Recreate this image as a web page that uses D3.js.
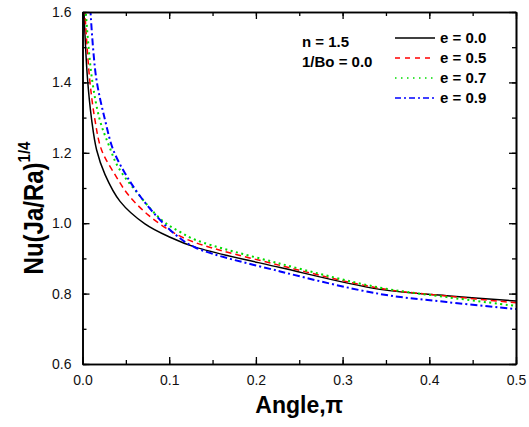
<!DOCTYPE html>
<html>
<head>
<meta charset="utf-8">
<script src="https://d3js.org/d3.v7.min.js"></script>
<style>
  body { margin: 0; background: #fff; }
  text { font-family: "Liberation Sans", Arial, Helvetica, sans-serif; }
</style>
</head>
<body>
<div id="my_dataviz"></div>
<script>

// values: [angle (units of pi), Nu(Ja/Ra)^1/4]
var e00 = [[0.0012,1.63],[0.0056,1.416],[0.0106,1.293],[0.0163,1.208],[0.026,1.138],[0.0433,1.062],
           [0.072,0.998],[0.101,0.960],[0.130,0.932],[0.228,0.874],[0.343,0.812],[0.42,0.794],[0.5,0.779]];
var e05 = [[0.0025,1.61],[0.008,1.416],[0.0144,1.293],[0.022,1.208],[0.0375,1.138],[0.053,1.080],
           [0.076,1.023],[0.103,0.976],[0.130,0.945],[0.228,0.880],[0.343,0.815],[0.42,0.793],[0.5,0.774]];
var e07 = [[0.0035,1.61],[0.0106,1.416],[0.020,1.293],[0.030,1.224],[0.041,1.160],[0.0606,1.094],
           [0.0913,1.009],[0.112,0.976],[0.130,0.953],[0.228,0.885],[0.343,0.817],[0.42,0.790],[0.5,0.765]];
var e09 = [[0.0090,1.61],[0.0156,1.416],[0.026,1.293],[0.0355,1.208],[0.049,1.142],[0.064,1.085],
           [0.0836,1.025],[0.107,0.968],[0.130,0.931],[0.228,0.863],[0.343,0.799],[0.42,0.776],[0.5,0.756]];

var seriesNames = ["e = 0.0", "e = 0.5", "e = 0.7", "e = 0.9"];
var seriesData = [e00, e05, e07, e09];
var xTicks = [0.0, 0.1, 0.2, 0.3, 0.4, 0.5];
var yTicks = [0.6, 0.8, 1.0, 1.2, 1.4, 1.6];
var notes = ["n = 1.5", "1/Bo = 0.0"];

var colors = ["#000000", "#ff0000", "#00dd00", "#0000ff"];
var dashes = ["none", "6,4", "2,3.5", "7,3,2,3"];
var widths = [1.5, 1.5, 2, 2];

var margin = {top: 12, right: 13, bottom: 63, left: 82.5},
    width = 529 - margin.left - margin.right,
    height = 427 - margin.top - margin.bottom;

var svg = d3.select("#my_dataviz")
  .append("svg")
    .attr("width", 529)
    .attr("height", 427)
  .append("g")
    .attr("transform", "translate(" + margin.left + "," + margin.top + ")");

var x = d3.scaleLinear().domain([0, 0.5]).range([0, width]);
var y = d3.scaleLinear().domain([0.6, 1.6]).range([height, 0]);

svg.append("clipPath").attr("id", "clip")
  .append("rect").attr("width", width).attr("height", height);

// curves
var line = d3.line()
  .x(function(d) { return x(d[0]); })
  .y(function(d) { return y(d[1]); })
  .curve(d3.curveCatmullRom.alpha(0.5));

svg.append("g").attr("clip-path", "url(#clip)")
  .selectAll("path")
  .data(seriesData)
  .enter()
  .append("path")
    .attr("d", function(d) { return line(d); })
    .attr("fill", "none")
    .attr("stroke", function(d, i) { return colors[i]; })
    .attr("stroke-width", function(d, i) { return widths[i]; })
    .attr("stroke-dasharray", function(d, i) { return dashes[i]; });

// axes, ticks pointing inward on all four sides
var minorX = d3.range(0, 0.501, 0.05);
var minorY = d3.range(0.6, 1.601, 0.1);

svg.append("g").attr("transform", "translate(0," + height + ")")
  .call(d3.axisBottom(x).tickValues(xTicks).tickFormat(d3.format(".1f")).tickSizeInner(-7).tickSizeOuter(0).tickPadding(11));
svg.append("g")
  .call(d3.axisTop(x).tickValues(xTicks).tickFormat("").tickSizeInner(-7).tickSizeOuter(0));
svg.append("g")
  .call(d3.axisLeft(y).tickValues(yTicks).tickFormat(d3.format(".1f")).tickSizeInner(-7).tickSizeOuter(0).tickPadding(11));
svg.append("g").attr("transform", "translate(" + width + ",0)")
  .call(d3.axisRight(y).tickValues(yTicks).tickFormat("").tickSizeInner(-7).tickSizeOuter(0));

svg.append("g").attr("transform", "translate(0," + height + ")")
  .call(d3.axisBottom(x).tickValues(minorX).tickFormat("").tickSizeInner(-4).tickSizeOuter(0));
svg.append("g")
  .call(d3.axisTop(x).tickValues(minorX).tickFormat("").tickSizeInner(-4).tickSizeOuter(0));
svg.append("g")
  .call(d3.axisLeft(y).tickValues(minorY).tickFormat("").tickSizeInner(-4).tickSizeOuter(0));
svg.append("g").attr("transform", "translate(" + width + ",0)")
  .call(d3.axisRight(y).tickValues(minorY).tickFormat("").tickSizeInner(-4).tickSizeOuter(0));

svg.selectAll(".domain").attr("stroke", "#000").attr("stroke-width", 1.6);
svg.selectAll(".tick line").attr("stroke", "#000").attr("stroke-width", 1.3);
svg.selectAll(".tick text")
  .attr("fill", "#111")
  .style("font-size", "14px")
  .style("font-family", "'Liberation Sans', Arial, sans-serif");

// axis titles
svg.append("text")
  .attr("x", width / 2)
  .attr("y", 401)
  .attr("text-anchor", "middle")
  .style("font-size", "23px")
  .style("font-weight", "bold")
  .text("Angle,π");

var yt = svg.append("text")
  .attr("text-anchor", "middle")
  .attr("transform", "translate(-40,196) rotate(-90) scale(1,1.15)")
  .style("font-size", "24px")
  .style("font-weight", "bold");
yt.append("tspan").text("Nu(Ja/Ra)");
yt.append("tspan").attr("dy", -11).style("font-size", "15px").text("1/4");

// notes
svg.selectAll("note")
  .data(notes)
  .enter()
  .append("text")
    .attr("x", 302 - margin.left)
    .attr("y", function(d, i) { return 47 - margin.top + i * 20; })
    .style("font-size", "15px")
    .style("font-weight", "bold")
    .text(function(d) { return d; });

// legend
var legend = svg.selectAll("legend")
  .data(seriesNames)
  .enter()
  .append("g")
    .attr("transform", function(d, i) { return "translate(" + (395 - margin.left) + "," + (38 - margin.top + i * 20) + ")"; });

legend.append("line")
  .attr("x1", 0).attr("x2", 40)
  .attr("stroke", function(d, i) { return colors[i]; })
  .attr("stroke-width", 1.5)
  .attr("stroke-dasharray", function(d, i) { return ["none", "5,5", "1.5,4.5", "6,3,2,3"][i]; });

legend.append("text")
  .attr("x", 45)
  .attr("y", 5)
  .style("font-size", "15px")
  .style("font-weight", "bold")
  .text(function(d) { return d; });

</script>
</body>
</html>
